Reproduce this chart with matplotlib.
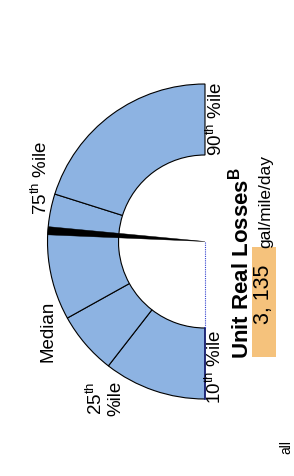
import numpy as np
import matplotlib
matplotlib.use("Agg")
from matplotlib import pyplot as plt
from matplotlib.patches import Wedge, Polygon, Rectangle

# dial scale in gal/mile/day, estimated from where the segment lines sit
percentile_names = ["10th", "25th", "Median", "75th", "90th"]
percentile_values = [1100, 1920, 2420, 3430, 5000]
unit_real_losses = 3135

plt.rcParams['font.family'] = ['Liberation Sans', 'DejaVu Sans']
plt.rcParams['mathtext.fontset'] = 'custom'
plt.rcParams['mathtext.rm'] = 'Liberation Sans'
plt.rcParams['mathtext.bf'] = 'Liberation Sans:bold'

fig = plt.figure(figsize=(2.94, 4.76), dpi=100)
ax = fig.add_axes([0, 0, 1, 1])
ax.set_xlim(0, 294)
ax.set_ylim(0, 476)
ax.axis('off')

# gauge geometry (pixel units)
cx, cy = 205, 234.5
r_out, r_in = 157.5, 86.5
lo, hi = percentile_values[0], percentile_values[-1]


def to_angle(v):
    # dial runs from straight down (low) round the left side to straight up (high)
    return 270 - 180 * (v - lo) / (hi - lo)


for a, b in zip(percentile_values[:-1], percentile_values[1:]):
    ax.add_patch(Wedge((cx, cy), r_out, to_angle(b), to_angle(a), width=r_out - r_in,
                       facecolor='#8DB3E2', edgecolor='black', lw=0.8))

# flat edge of the low end and the dotted base line
t0 = np.radians(to_angle(lo))
ax.plot([cx + r_in * np.cos(t0), cx + r_out * np.cos(t0)],
        [cy + r_in * np.sin(t0), cy + r_out * np.sin(t0)], color='#1a237e', lw=1.2)
ax.plot([cx, cx + r_in * np.cos(t0)], [cy, cy + r_in * np.sin(t0)],
        color='#3040d0', lw=0.8, ls=(0, (1, 1)))

# needle
t = to_angle(unit_real_losses)
h = 1.5
needle = [(cx, cy),
          (cx + r_out * np.cos(np.radians(t + h)), cy + r_out * np.sin(np.radians(t + h))),
          (cx + r_out * np.cos(np.radians(t - h)), cy + r_out * np.sin(np.radians(t - h)))]
ax.add_patch(Polygon(needle, closed=True, facecolor='black', edgecolor='black', lw=0.3))

# percentile labels
lab = dict(rotation=90, ha='center', va='center', fontsize=13.5, multialignment='center')
ax.text(215.5, 357, "90$^{\\mathrm{th}}$ %ile", **lab)
ax.text(215, 109.5, "10$^{\\mathrm{th}}$ %ile", **lab)
ax.text(41, 298.5, "75$^{\\mathrm{th}}$ %ile", **lab)
ax.text(47.5, 145, "Median", **lab)
ax.text(105, 78, "25$^{\\mathrm{th}}$\n%ile", linespacing=1.1, **lab)

# title, value box and unit
ax.text(241, 212.5, "Unit Real Losses$^{\\mathbf{B}}$", rotation=90, ha='center', va='center',
        fontsize=16, fontweight='bold')
ax.add_patch(Rectangle((252, 119), 24, 110, facecolor='#F5C27C', edgecolor='none'))
ax.text(263, 182, f"{unit_real_losses:,}".replace(",", ", "), rotation=90, ha='center',
        va='center', fontsize=15.5)
ax.text(266, 275, "gal/mile/day", rotation=90, ha='center', va='center', fontsize=12.5)

# fragment of text at the page edge
ax.text(293, 36, "all", rotation=90, ha='right', va='top', fontsize=10)

fig.savefig("out.png", dpi=100)
